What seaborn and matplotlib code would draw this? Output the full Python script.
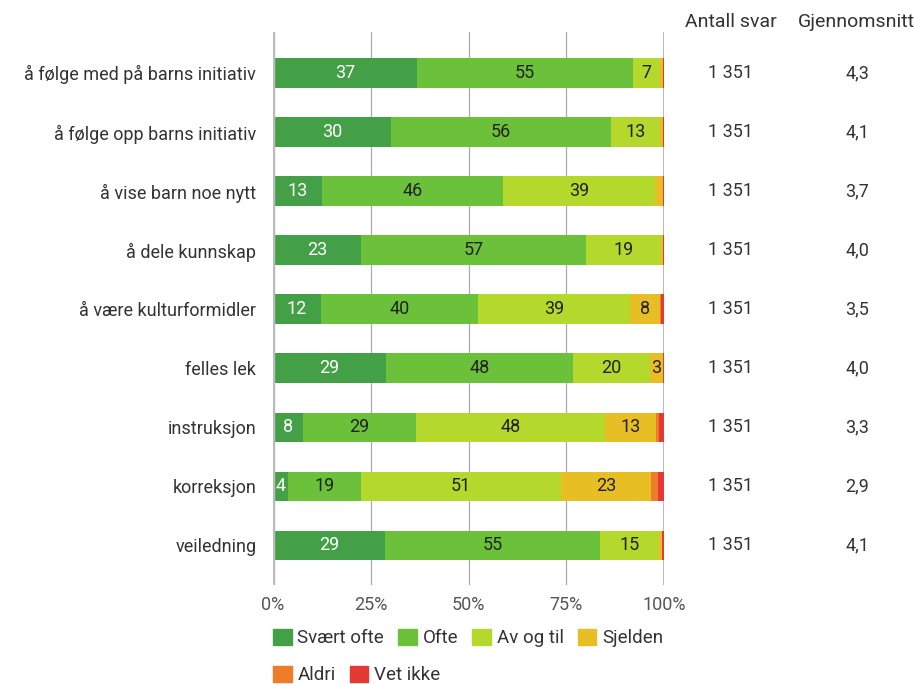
import matplotlib.pyplot as plt
import matplotlib.transforms as mtransforms
from matplotlib.patches import Patch
import pandas as pd
import seaborn as sns

# Data
kategorier = ['å følge med på barns initiativ', 'å følge opp barns initiativ',
              'å vise barn noe nytt', 'å dele kunnskap', 'å være kulturformidler',
              'felles lek', 'instruksjon', 'korreksjon', 'veiledning']
svart_ofte = [36.8, 30.2, 12.6, 22.6, 12.3, 28.9, 7.6, 3.8, 28.6]
ofte = [55.3, 56.2, 46.3, 57.4, 40.1, 47.8, 28.9, 18.7, 55.0]
av_og_til = [6.9, 12.6, 38.8, 19.2, 38.9, 19.7, 48.4, 51.2, 15.1]
sjelden = [0.7, 0.7, 2.0, 0.5, 7.7, 3.3, 13.1, 23.0, 0.8]
aldri = [0.0, 0.0, 0.0, 0.0, 0.2, 0.0, 0.7, 1.8, 0.0]
vet_ikke = [0.3, 0.3, 0.3, 0.3, 0.8, 0.3, 1.3, 1.5, 0.5]
antall_svar = ['1 351'] * 9
gjennomsnitt = ['4,3', '4,1', '3,7', '4,0', '3,5', '4,0', '3,3', '2,9', '4,1']

serier = ['Svært ofte', 'Ofte', 'Av og til', 'Sjelden', 'Aldri', 'Vet ikke']
farger = ['#43a047', '#6cc13a', '#b4d82b', '#e8be25', '#ee7d2a', '#e53935']
tekstfarger = ['white', '#222222', '#222222', '#222222', '#222222', '#222222']

df = pd.DataFrame({'kategori': kategorier, 'Svært ofte': svart_ofte, 'Ofte': ofte,
                   'Av og til': av_og_til, 'Sjelden': sjelden, 'Aldri': aldri,
                   'Vet ikke': vet_ikke})
cum = df[serier].cumsum(axis=1)

sns.set_style('white')
plt.rcParams['font.family'] = ['Roboto', 'DejaVu Sans']
FS = 13

fig = plt.figure(figsize=(9.14, 6.84), dpi=100)
ax = fig.add_axes([0.2987, 0.1447, 0.4278, 0.8083])

# stacked bars: draw cumulative totals, largest first
for s, c in reversed(list(zip(serier, farger))):
    sns.barplot(x=cum[s], y=df['kategori'], color=c, orient='h', width=0.5,
                ax=ax, saturation=1, linewidth=0)

# segment labels
for i in range(len(df)):
    left = 0
    for s, tc in zip(serier, tekstfarger):
        v = df.loc[i, s]
        if v >= 2.5:
            ax.text(left + v / 2, i, f'{round(v):d}', ha='center', va='center',
                    fontsize=FS, color=tc)
        left += v

ax.set_xlim(0, 100)
ax.set_ylim(8.67, -0.69)
ax.set_xticks([0, 25, 50, 75, 100])
ax.set_xticklabels(['0%', '25%', '50%', '75%', '100%'], fontsize=FS, color='#555555')
ax.set_yticks(range(len(kategorier)))
ax.set_yticklabels(kategorier, fontsize=FS, color='#333333')
ax.tick_params(axis='both', length=0)
ax.tick_params(axis='y', pad=12)
ax.tick_params(axis='x', pad=8)
ax.set_xlabel('')
ax.set_ylabel('')
for sp in ax.spines.values():
    sp.set_visible(False)
ax.set_axisbelow(True)
for x in [25, 50, 75]:
    ax.axvline(x, color='#aaaaaa', lw=0.9, zorder=0)
ax.axvline(100, color='#bbbbbb', lw=1.5, zorder=0)
ax.axvline(0, color='#bbbbbb', lw=2.5, zorder=5)

# right columns
trans = mtransforms.blended_transform_factory(ax.transAxes, ax.transData)
for i in range(len(kategorier)):
    ax.text(1.171, i, antall_svar[i], transform=trans, ha='center', va='center',
            fontsize=FS, color='#333333')
    ax.text(1.494, i, gjennomsnitt[i], transform=trans, ha='center', va='center',
            fontsize=FS, color='#333333')
fig.text(731 / 914, 1 - 22 / 684, 'Antall svar', ha='center', va='center',
         fontsize=14, color='#333333')
fig.text(856 / 914, 1 - 22 / 684, 'Gjennomsnitt', ha='center', va='center',
         fontsize=14, color='#333333')

# legend in two rows
handles = [Patch(facecolor=c, edgecolor=c) for c in farger]
kw = dict(frameon=False, fontsize=13.5, handlelength=1.0, handleheight=1.0,
          handletextpad=0.3, columnspacing=0.75, borderaxespad=0, borderpad=0,
          labelcolor='#333333')
fig.legend(handles[:4], serier[:4], ncol=4, loc='center left',
           bbox_to_anchor=(273 / 914, 1 - 638 / 684), **kw)
fig.legend(handles[4:], serier[4:], ncol=2, loc='center left',
           bbox_to_anchor=(273 / 914, 1 - 675 / 684), **kw)

fig.savefig('out.png', dpi=100)
